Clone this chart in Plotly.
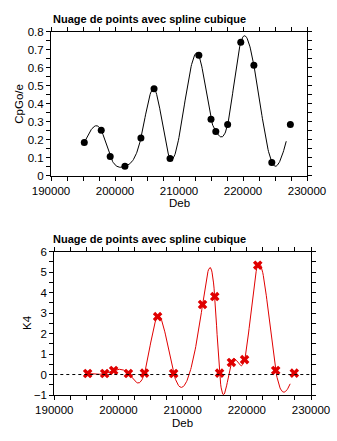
import numpy as np
import plotly.graph_objects as go

# Data
deb = [195200, 197850, 199250, 201550, 204050, 206100, 208600, 213100,
       215000, 215750, 217600, 219650, 221700, 224500, 227400]
cpgo_e = [0.185, 0.252, 0.107, 0.052, 0.209, 0.483, 0.096, 0.669,
          0.313, 0.246, 0.285, 0.741, 0.613, 0.074, 0.285]
k4 = [0.05, 0.05, 0.2, 0.05, 0.07, 2.83, 0.05, 3.42,
      3.81, 0.07, 0.59, 0.73, 5.34, 0.2, 0.07]

TITLE = "Nuage de points avec spline cubique"
RED = "#e00000"
W, H = 337, 441


def natural_cubic_spline(x, y, xs):
    """Evaluate the natural cubic spline through (x, y) at xs."""
    x = np.asarray(x, float)
    y = np.asarray(y, float)
    n = len(x)
    h = np.diff(x)
    A = np.zeros((n, n))
    b = np.zeros(n)
    A[0, 0] = A[-1, -1] = 1.0
    for i in range(1, n - 1):
        A[i, i - 1] = h[i - 1]
        A[i, i] = 2 * (h[i - 1] + h[i])
        A[i, i + 1] = h[i]
        b[i] = 3 * ((y[i + 1] - y[i]) / h[i] - (y[i] - y[i - 1]) / h[i - 1])
    c = np.linalg.solve(A, b)
    bb = (y[1:] - y[:-1]) / h - h * (2 * c[:-1] + c[1:]) / 3
    d = (c[1:] - c[:-1]) / (3 * h)
    idx = np.clip(np.searchsorted(x, xs, side="right") - 1, 0, n - 2)
    t = xs - x[idx]
    return y[idx] + bb[idx] * t + c[idx] * t ** 2 + d[idx] * t ** 3


# spline sampled over the data span, stopping one coarse step before the end
span = deb[-1] - deb[0]
xs = np.linspace(deb[0], deb[-1] - span / 50, 400)
spl_top = natural_cubic_spline(deb, cpgo_e, xs)
spl_bot = natural_cubic_spline(deb, k4, xs)

fig = go.Figure()
fig.add_trace(go.Scatter(x=xs, y=spl_top, mode="lines",
                         line=dict(color="black", width=1),
                         xaxis="x", yaxis="y", hoverinfo="skip"))
fig.add_trace(go.Scatter(x=deb, y=cpgo_e, mode="markers",
                         marker=dict(symbol="circle", size=7, color="black"),
                         xaxis="x", yaxis="y"))
fig.add_trace(go.Scatter(x=xs, y=spl_bot, mode="lines",
                         line=dict(color=RED, width=1),
                         xaxis="x2", yaxis="y2", hoverinfo="skip"))
fig.add_trace(go.Scatter(x=deb, y=k4, mode="markers",
                         marker=dict(symbol="x", size=8.5, color=RED,
                                     line=dict(width=0)),
                         xaxis="x2", yaxis="y2"))

tickfont = dict(family="Liberation Sans", size=11.5, color="black")
common = dict(showline=True, linecolor="black", linewidth=1, mirror="ticks",
              ticks="outside", ticklen=4, tickcolor="black", tickwidth=1,
              showgrid=False, zeroline=False, tickfont=tickfont,
              automargin=False, fixedrange=True)


def px_dom(a, b, total, flip=False):
    if flip:
        return [1 - b / total, 1 - a / total]
    return [a / total, b / total]


fig.update_layout(
    width=W, height=H,
    margin=dict(l=0, r=0, t=0, b=0),
    paper_bgcolor="white", plot_bgcolor="white",
    showlegend=False,
    xaxis=dict(domain=px_dom(51, 307, W), range=[190000, 230000],
               dtick=10000, tickformat="d", anchor="y",
               minor=dict(dtick=2500, ticks="outside", ticklen=4,
                          tickcolor="black"), **common),
    yaxis=dict(domain=px_dom(31.7, 175.7, H, True), range=[0, 0.8],
               dtick=0.1, anchor="x",
               minor=dict(dtick=0.05, ticks="outside", ticklen=4,
                          tickcolor="black"), **common),
    xaxis2=dict(domain=px_dom(54.3, 311, W), range=[190000, 230000],
                dtick=10000, tickformat="d", anchor="y2",
                minor=dict(dtick=2500, ticks="outside", ticklen=4,
                           tickcolor="black"), **common),
    yaxis2=dict(domain=px_dom(251.7, 395, H, True), range=[-1, 6],
                dtick=1, anchor="x2",
                minor=dict(dtick=0.5, ticks="outside", ticklen=4,
                           tickcolor="black"), **common),
)

# dotted zero reference on the K4 panel
fig.add_shape(type="line", xref="x2 domain", yref="y2", x0=0, x1=1, y0=0, y1=0,
              line=dict(color="black", width=1, dash="dot"))

titlefont = dict(family="Liberation Sans", size=11, color="black")
labelfont = dict(family="Liberation Sans", size=11.5, color="black")
ann = [
    dict(text="<b>" + TITLE + "</b>", x=51 / W, y=1 - 18.5 / H,
         xanchor="left", yanchor="middle", font=titlefont),
    dict(text="<b>" + TITLE + "</b>", x=51 / W, y=1 - 238.5 / H,
         xanchor="left", yanchor="middle", font=titlefont),
    dict(text="Deb", x=179 / W, y=1 - 203 / H, xanchor="center",
         yanchor="middle", font=labelfont),
    dict(text="Deb", x=182.5 / W, y=1 - 423 / H, xanchor="center",
         yanchor="middle", font=labelfont),
    dict(text="CpGo/e", x=19 / W, y=1 - 103.7 / H, textangle=-90,
         xanchor="center", yanchor="middle", font=labelfont),
    dict(text="K4", x=27 / W, y=1 - 323 / H, textangle=-90,
         xanchor="center", yanchor="middle", font=labelfont),
]
for a in ann:
    fig.add_annotation(xref="paper", yref="paper", showarrow=False, **a)

fig.write_html("out.html", config={"displayModeBar": False})
